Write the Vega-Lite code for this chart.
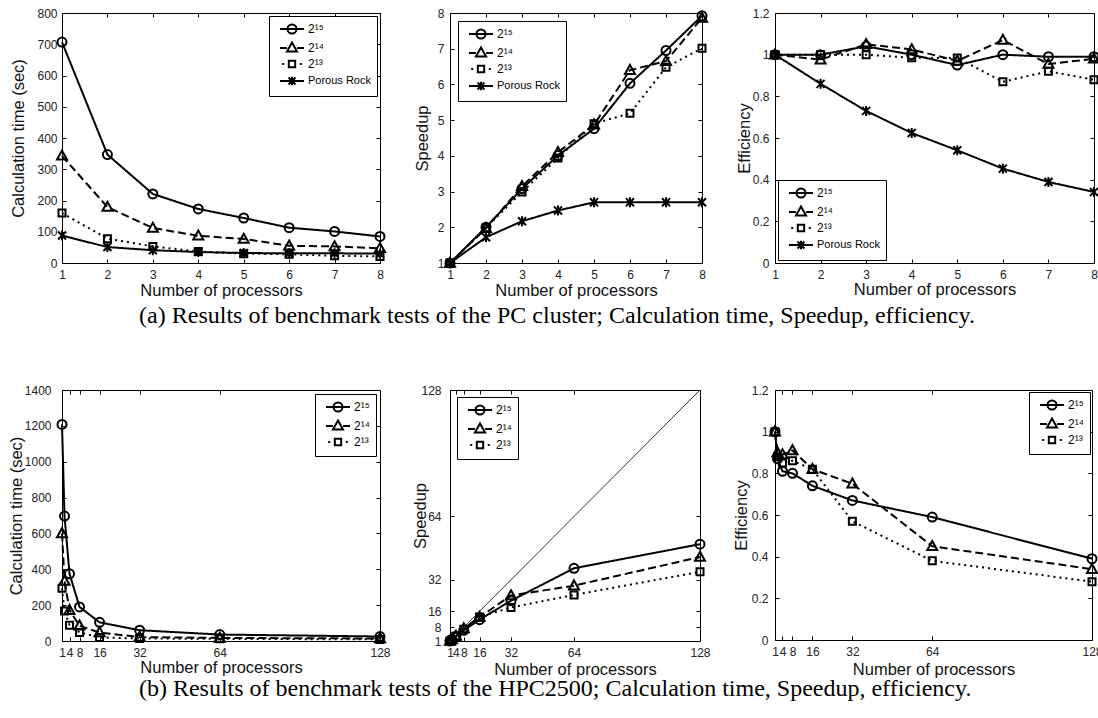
{
  "$schema": "https://vega.github.io/schema/vega-lite/v6.json",
  "background": "white",
  "padding": {"left": 7, "top": 6, "right": 0, "bottom": 0},
  "config": {
    "view": {"stroke": "black", "strokeWidth": 1},
    "axis": {
      "labelFont": "Liberation Sans", "labelFontSize": 12, "labelColor": "#222",
      "titleFont": "Liberation Sans", "titleFontSize": 16.5, "titleFontWeight": "normal", "titleColor": "#111",
      "tickColor": "black", "tickSize": -4, "domain": false, "grid": false, "minExtent": 0,
      "labelOverlap": false, "labelFlush": false, "labelBound": false
    },
    "legend": {
      "labelFont": "Liberation Sans", "labelFontSize": 12, "labelColor": "black",
      "fillColor": "white", "strokeColor": "black", "padding": 6, "symbolOffset": 10,
      "symbolSize": 144, "symbolStrokeWidth": 2, "symbolStrokeColor": "black", "symbolFillColor": "transparent", "symbolOpacity": 1,
      "labelOffset": 9, "rowPadding": 0
    }
  },
  "datasets": {
    "pcTime": [
      {"p": 1, "s": "2¹⁵", "v": 707}, {"p": 2, "s": "2¹⁵", "v": 347}, {"p": 3, "s": "2¹⁵", "v": 221}, {"p": 4, "s": "2¹⁵", "v": 173},
      {"p": 5, "s": "2¹⁵", "v": 144}, {"p": 6, "s": "2¹⁵", "v": 113}, {"p": 7, "s": "2¹⁵", "v": 101}, {"p": 8, "s": "2¹⁵", "v": 85},
      {"p": 1, "s": "2¹⁴", "v": 343}, {"p": 2, "s": "2¹⁴", "v": 179}, {"p": 3, "s": "2¹⁴", "v": 112}, {"p": 4, "s": "2¹⁴", "v": 87},
      {"p": 5, "s": "2¹⁴", "v": 77}, {"p": 6, "s": "2¹⁴", "v": 55}, {"p": 7, "s": "2¹⁴", "v": 53}, {"p": 8, "s": "2¹⁴", "v": 47},
      {"p": 1, "s": "2¹³", "v": 160}, {"p": 2, "s": "2¹³", "v": 78}, {"p": 3, "s": "2¹³", "v": 53}, {"p": 4, "s": "2¹³", "v": 37},
      {"p": 5, "s": "2¹³", "v": 30}, {"p": 6, "s": "2¹³", "v": 28}, {"p": 7, "s": "2¹³", "v": 23}, {"p": 8, "s": "2¹³", "v": 21},
      {"p": 1, "s": "Porous Rock", "v": 88}, {"p": 2, "s": "Porous Rock", "v": 51}, {"p": 3, "s": "Porous Rock", "v": 41}, {"p": 4, "s": "Porous Rock", "v": 35},
      {"p": 5, "s": "Porous Rock", "v": 32}, {"p": 6, "s": "Porous Rock", "v": 31}, {"p": 7, "s": "Porous Rock", "v": 31}, {"p": 8, "s": "Porous Rock", "v": 30}
    ],
    "pcSpeed": [
      {"p": 1, "s": "2¹⁵", "v": 1}, {"p": 2, "s": "2¹⁵", "v": 2.0}, {"p": 3, "s": "2¹⁵", "v": 3.08}, {"p": 4, "s": "2¹⁵", "v": 4.01},
      {"p": 5, "s": "2¹⁵", "v": 4.76}, {"p": 6, "s": "2¹⁵", "v": 6.03}, {"p": 7, "s": "2¹⁵", "v": 6.95}, {"p": 8, "s": "2¹⁵", "v": 7.92},
      {"p": 1, "s": "2¹⁴", "v": 1}, {"p": 2, "s": "2¹⁴", "v": 1.97}, {"p": 3, "s": "2¹⁴", "v": 3.15}, {"p": 4, "s": "2¹⁴", "v": 4.1},
      {"p": 5, "s": "2¹⁴", "v": 4.87}, {"p": 6, "s": "2¹⁴", "v": 6.4}, {"p": 7, "s": "2¹⁴", "v": 6.65}, {"p": 8, "s": "2¹⁴", "v": 7.86},
      {"p": 1, "s": "2¹³", "v": 1}, {"p": 2, "s": "2¹³", "v": 1.99}, {"p": 3, "s": "2¹³", "v": 2.99}, {"p": 4, "s": "2¹³", "v": 3.94},
      {"p": 5, "s": "2¹³", "v": 4.9}, {"p": 6, "s": "2¹³", "v": 5.19}, {"p": 7, "s": "2¹³", "v": 6.48}, {"p": 8, "s": "2¹³", "v": 7.01},
      {"p": 1, "s": "Porous Rock", "v": 1}, {"p": 2, "s": "Porous Rock", "v": 1.72}, {"p": 3, "s": "Porous Rock", "v": 2.17}, {"p": 4, "s": "Porous Rock", "v": 2.47},
      {"p": 5, "s": "Porous Rock", "v": 2.7}, {"p": 6, "s": "Porous Rock", "v": 2.7}, {"p": 7, "s": "Porous Rock", "v": 2.7}, {"p": 8, "s": "Porous Rock", "v": 2.7}
    ],
    "pcEff": [
      {"p": 1, "s": "2¹⁵", "v": 1}, {"p": 2, "s": "2¹⁵", "v": 1.0}, {"p": 3, "s": "2¹⁵", "v": 1.04}, {"p": 4, "s": "2¹⁵", "v": 1.0},
      {"p": 5, "s": "2¹⁵", "v": 0.95}, {"p": 6, "s": "2¹⁵", "v": 1.0}, {"p": 7, "s": "2¹⁵", "v": 0.99}, {"p": 8, "s": "2¹⁵", "v": 0.99},
      {"p": 1, "s": "2¹⁴", "v": 1}, {"p": 2, "s": "2¹⁴", "v": 0.976}, {"p": 3, "s": "2¹⁴", "v": 1.05}, {"p": 4, "s": "2¹⁴", "v": 1.025},
      {"p": 5, "s": "2¹⁴", "v": 0.97}, {"p": 6, "s": "2¹⁴", "v": 1.07}, {"p": 7, "s": "2¹⁴", "v": 0.955}, {"p": 8, "s": "2¹⁴", "v": 0.98},
      {"p": 1, "s": "2¹³", "v": 1}, {"p": 2, "s": "2¹³", "v": 1.0}, {"p": 3, "s": "2¹³", "v": 1.0}, {"p": 4, "s": "2¹³", "v": 0.985},
      {"p": 5, "s": "2¹³", "v": 0.984}, {"p": 6, "s": "2¹³", "v": 0.87}, {"p": 7, "s": "2¹³", "v": 0.92}, {"p": 8, "s": "2¹³", "v": 0.88},
      {"p": 1, "s": "Porous Rock", "v": 1}, {"p": 2, "s": "Porous Rock", "v": 0.86}, {"p": 3, "s": "Porous Rock", "v": 0.73}, {"p": 4, "s": "Porous Rock", "v": 0.624},
      {"p": 5, "s": "Porous Rock", "v": 0.541}, {"p": 6, "s": "Porous Rock", "v": 0.453}, {"p": 7, "s": "Porous Rock", "v": 0.389}, {"p": 8, "s": "Porous Rock", "v": 0.341}
    ],
    "hpcTime": [
      {"p": 1, "s": "2¹⁵", "v": 1208}, {"p": 2, "s": "2¹⁵", "v": 697}, {"p": 4, "s": "2¹⁵", "v": 375}, {"p": 8, "s": "2¹⁵", "v": 190},
      {"p": 16, "s": "2¹⁵", "v": 104}, {"p": 32, "s": "2¹⁵", "v": 60}, {"p": 64, "s": "2¹⁵", "v": 36}, {"p": 128, "s": "2¹⁵", "v": 25},
      {"p": 1, "s": "2¹⁴", "v": 600}, {"p": 2, "s": "2¹⁴", "v": 335}, {"p": 4, "s": "2¹⁴", "v": 172}, {"p": 8, "s": "2¹⁴", "v": 85},
      {"p": 16, "s": "2¹⁴", "v": 47}, {"p": 32, "s": "2¹⁴", "v": 22}, {"p": 64, "s": "2¹⁴", "v": 17}, {"p": 128, "s": "2¹⁴", "v": 14},
      {"p": 1, "s": "2¹³", "v": 294}, {"p": 2, "s": "2¹³", "v": 168}, {"p": 4, "s": "2¹³", "v": 88}, {"p": 8, "s": "2¹³", "v": 48},
      {"p": 16, "s": "2¹³", "v": 20}, {"p": 32, "s": "2¹³", "v": 14}, {"p": 64, "s": "2¹³", "v": 12}, {"p": 128, "s": "2¹³", "v": 9}
    ],
    "hpcSpeed": [
      {"p": 1, "s": "2¹⁵", "v": 1}, {"p": 2, "s": "2¹⁵", "v": 1.74}, {"p": 4, "s": "2¹⁵", "v": 3.24}, {"p": 8, "s": "2¹⁵", "v": 6.4},
      {"p": 16, "s": "2¹⁵", "v": 11.8}, {"p": 32, "s": "2¹⁵", "v": 21.4}, {"p": 64, "s": "2¹⁵", "v": 37.8}, {"p": 128, "s": "2¹⁵", "v": 50},
      {"p": 1, "s": "2¹⁴", "v": 1}, {"p": 2, "s": "2¹⁴", "v": 1.8}, {"p": 4, "s": "2¹⁴", "v": 3.56}, {"p": 8, "s": "2¹⁴", "v": 7.3},
      {"p": 16, "s": "2¹⁴", "v": 13.1}, {"p": 32, "s": "2¹⁴", "v": 24}, {"p": 64, "s": "2¹⁴", "v": 29}, {"p": 128, "s": "2¹⁴", "v": 43.5},
      {"p": 1, "s": "2¹³", "v": 1}, {"p": 2, "s": "2¹³", "v": 1.76}, {"p": 4, "s": "2¹³", "v": 3.4}, {"p": 8, "s": "2¹³", "v": 6.9},
      {"p": 16, "s": "2¹³", "v": 13.1}, {"p": 32, "s": "2¹³", "v": 18}, {"p": 64, "s": "2¹³", "v": 24.3}, {"p": 128, "s": "2¹³", "v": 36}
    ],
    "hpcEff": [
      {"p": 1, "s": "2¹⁵", "v": 1}, {"p": 2, "s": "2¹⁵", "v": 0.87}, {"p": 4, "s": "2¹⁵", "v": 0.81}, {"p": 8, "s": "2¹⁵", "v": 0.8},
      {"p": 16, "s": "2¹⁵", "v": 0.74}, {"p": 32, "s": "2¹⁵", "v": 0.67}, {"p": 64, "s": "2¹⁵", "v": 0.59}, {"p": 128, "s": "2¹⁵", "v": 0.39},
      {"p": 1, "s": "2¹⁴", "v": 1}, {"p": 2, "s": "2¹⁴", "v": 0.9}, {"p": 4, "s": "2¹⁴", "v": 0.89}, {"p": 8, "s": "2¹⁴", "v": 0.91},
      {"p": 16, "s": "2¹⁴", "v": 0.82}, {"p": 32, "s": "2¹⁴", "v": 0.75}, {"p": 64, "s": "2¹⁴", "v": 0.45}, {"p": 128, "s": "2¹⁴", "v": 0.34},
      {"p": 1, "s": "2¹³", "v": 1}, {"p": 2, "s": "2¹³", "v": 0.88}, {"p": 4, "s": "2¹³", "v": 0.85}, {"p": 8, "s": "2¹³", "v": 0.86},
      {"p": 16, "s": "2¹³", "v": 0.82}, {"p": 32, "s": "2¹³", "v": 0.57}, {"p": 64, "s": "2¹³", "v": 0.38}, {"p": 128, "s": "2¹³", "v": 0.28}
    ],
    "ideal": [{"p": 1, "v": 1}, {"p": 128, "v": 128}]
  },
  "spacing": 55,
  "resolve": {"scale": {"shape": "independent", "strokeDash": "independent"}, "legend": {"shape": "independent", "strokeDash": "independent"}},
  "vconcat": [
    {
      "spacing": 23,
      "resolve": {"scale": {"shape": "independent", "strokeDash": "independent"}, "legend": {"shape": "independent", "strokeDash": "independent"}},
      "title": {"text": "(a) Results of benchmark tests of the PC cluster; Calculation time, Speedup, efficiency.", "orient": "bottom", "anchor": "middle", "font": "Liberation Serif", "fontSize": 24, "fontWeight": "normal", "color": "black", "offset": 5},
      "hconcat": [
        {
          "width": 318, "height": 250,
          "data": {"name": "pcTime"},
          "resolve": {"axis": {"x": "independent", "y": "independent"}, "scale": {"shape": "independent"}},
          "layer": [
            {
              "mark": {"type": "line", "color": "black", "strokeWidth": 2},
              "encoding": {
                "x": {"field": "p", "type": "quantitative", "scale": {"domain": [1, 8], "nice": false, "zero": false}, "axis": {"title": "Number of processors", "values": [1, 2, 3, 4, 5, 6, 7, 8], "labelPadding": 10, "titlePadding": 2}},
                "y": {"field": "v", "type": "quantitative", "scale": {"domain": [0, 800], "nice": false}, "axis": {"title": "Calculation time (sec)", "values": [0, 100, 200, 300, 400, 500, 600, 700, 800], "labelPadding": 9, "titlePadding": 10}},
                "strokeDash": {"field": "s", "type": "nominal", "scale": {"domain": ["Porous Rock", "2¹³", "2¹⁴", "2¹⁵"], "range": [[1, 0], [2, 4], [8, 4], [1, 0]]}, "legend": null}
              }
            },
            {
              "mark": {"type": "point", "filled": false, "color": "black", "strokeWidth": 2, "size": 100, "opacity": 1},
              "encoding": {
                "x": {"field": "p", "type": "quantitative", "axis": {"orient": "top", "labels": false, "title": null, "values": [1, 2, 3, 4, 5, 6, 7, 8]}},
                "y": {"field": "v", "type": "quantitative", "axis": {"orient": "right", "labels": false, "title": null, "values": [0, 100, 200, 300, 400, 500, 600, 700, 800]}},
                "shape": {"field": "s", "type": "nominal", "legend": null,
                  "scale": {"domain": ["2¹⁵", "2¹⁴", "2¹³", "Porous Rock"], "range": ["M-0.9,0A0.9,0.9,0,1,0,0.9,0A0.9,0.9,0,1,0,-0.9,0Z", "M0,-1.05L1,0.75L-1,0.75Z", "M-0.7,-0.7H0.7V0.7H-0.7Z", "M-0.8,-0.8L0.8,0.8M-0.8,0.8L0.8,-0.8M0,-1V1"]}}
              }
            },
            {
              "transform": [{"filter": "false"}],
              "mark": {"type": "point", "filled": false, "color": "black", "strokeWidth": 2},
              "encoding": {
                "x": {"field": "p", "type": "quantitative", "axis": null},
                "y": {"field": "v", "type": "quantitative", "axis": null},
                "shape": {"field": "s", "type": "nominal",
                  "scale": {"domain": ["2¹⁵", "2¹⁴", "2¹³", "Porous Rock"], "range": ["M-2,0H2M-0.75,0A0.75,0.75,0,1,0,0.75,0A0.75,0.75,0,1,0,-0.75,0Z", "M-2,0H-0.85M0.85,0H2M0,-0.9L0.84,0.58L-0.84,0.58Z", "M-1.63,0H-1.3M1.3,0H1.63M-0.53,-0.53H0.53V0.53H-0.53Z", "M-2,0H2M-0.58,-0.58L0.58,0.58M-0.58,0.58L0.58,-0.58M0,-0.7V0.7"]},
                  "legend": {"title": null, "orient": "top-right", "offset": 3,
                    "encoding": {"labels": {"fontSize": {"value": {"expr": "datum.value === 'Porous Rock' ? 11 : 12"}}}}}}
              }
            }
          ]
        },
        {
          "width": 252, "height": 250,
          "data": {"name": "pcSpeed"},
          "resolve": {"axis": {"x": "independent", "y": "independent"}, "scale": {"shape": "independent"}},
          "layer": [
            {
              "mark": {"type": "line", "color": "black", "strokeWidth": 2},
              "encoding": {
                "x": {"field": "p", "type": "quantitative", "scale": {"domain": [1, 8], "nice": false, "zero": false}, "axis": {"title": "Number of processors", "values": [1, 2, 3, 4, 5, 6, 7, 8], "labelPadding": 10, "titlePadding": 2}},
                "y": {"field": "v", "type": "quantitative", "scale": {"domain": [1, 8], "nice": false, "zero": false}, "axis": {"title": "Speedup", "values": [1, 2, 3, 4, 5, 6, 7, 8], "labelPadding": 10, "titlePadding": 7}},
                "strokeDash": {"field": "s", "type": "nominal", "scale": {"domain": ["Porous Rock", "2¹³", "2¹⁴", "2¹⁵"], "range": [[1, 0], [2, 4], [8, 4], [1, 0]]}, "legend": null}
              }
            },
            {
              "mark": {"type": "point", "filled": false, "color": "black", "strokeWidth": 2, "size": 100, "opacity": 1},
              "encoding": {
                "x": {"field": "p", "type": "quantitative", "axis": {"orient": "top", "labels": false, "title": null, "values": [1, 2, 3, 4, 5, 6, 7, 8]}},
                "y": {"field": "v", "type": "quantitative", "axis": {"orient": "right", "labels": false, "title": null, "values": [1, 2, 3, 4, 5, 6, 7, 8]}},
                "shape": {"field": "s", "type": "nominal", "legend": null,
                  "scale": {"domain": ["2¹⁵", "2¹⁴", "2¹³", "Porous Rock"], "range": ["M-0.9,0A0.9,0.9,0,1,0,0.9,0A0.9,0.9,0,1,0,-0.9,0Z", "M0,-1.05L1,0.75L-1,0.75Z", "M-0.7,-0.7H0.7V0.7H-0.7Z", "M-0.8,-0.8L0.8,0.8M-0.8,0.8L0.8,-0.8M0,-1V1"]}}
              }
            },
            {
              "transform": [{"filter": "false"}],
              "mark": {"type": "point", "filled": false, "color": "black", "strokeWidth": 2},
              "encoding": {
                "x": {"field": "p", "type": "quantitative", "axis": null},
                "y": {"field": "v", "type": "quantitative", "axis": null},
                "shape": {"field": "s", "type": "nominal",
                  "scale": {"domain": ["2¹⁵", "2¹⁴", "2¹³", "Porous Rock"], "range": ["M-2,0H2M-0.75,0A0.75,0.75,0,1,0,0.75,0A0.75,0.75,0,1,0,-0.75,0Z", "M-2,0H-0.85M0.85,0H2M0,-0.9L0.84,0.58L-0.84,0.58Z", "M-1.63,0H-1.3M1.3,0H1.63M-0.53,-0.53H0.53V0.53H-0.53Z", "M-2,0H2M-0.58,-0.58L0.58,0.58M-0.58,0.58L0.58,-0.58M0,-0.7V0.7"]},
                  "legend": {"title": null, "orient": "top-left", "offset": 8,
                    "encoding": {"labels": {"fontSize": {"value": {"expr": "datum.value === 'Porous Rock' ? 11 : 12"}}}}}}
              }
            }
          ]
        },
        {
          "width": 319, "height": 250,
          "data": {"name": "pcEff"},
          "resolve": {"axis": {"x": "independent", "y": "independent"}, "scale": {"shape": "independent"}},
          "layer": [
            {
              "mark": {"type": "line", "color": "black", "strokeWidth": 2},
              "encoding": {
                "x": {"field": "p", "type": "quantitative", "scale": {"domain": [1, 8], "nice": false, "zero": false}, "axis": {"title": "Number of processors", "values": [1, 2, 3, 4, 5, 6, 7, 8], "labelPadding": 10, "titlePadding": 1}},
                "y": {"field": "v", "type": "quantitative", "scale": {"domain": [0, 1.2], "nice": false}, "axis": {"title": "Efficiency", "values": [0, 0.2, 0.4, 0.6, 0.8, 1, 1.2], "format": "~g", "labelPadding": 10, "titlePadding": 0}},
                "strokeDash": {"field": "s", "type": "nominal", "scale": {"domain": ["Porous Rock", "2¹³", "2¹⁴", "2¹⁵"], "range": [[1, 0], [2, 4], [8, 4], [1, 0]]}, "legend": null}
              }
            },
            {
              "mark": {"type": "point", "filled": false, "color": "black", "strokeWidth": 2, "size": 100, "opacity": 1},
              "encoding": {
                "x": {"field": "p", "type": "quantitative", "axis": {"orient": "top", "labels": false, "title": null, "values": [1, 2, 3, 4, 5, 6, 7, 8]}},
                "y": {"field": "v", "type": "quantitative", "axis": {"orient": "right", "labels": false, "title": null, "values": [0, 0.2, 0.4, 0.6, 0.8, 1, 1.2]}},
                "shape": {"field": "s", "type": "nominal", "legend": null,
                  "scale": {"domain": ["2¹⁵", "2¹⁴", "2¹³", "Porous Rock"], "range": ["M-0.9,0A0.9,0.9,0,1,0,0.9,0A0.9,0.9,0,1,0,-0.9,0Z", "M0,-1.05L1,0.75L-1,0.75Z", "M-0.7,-0.7H0.7V0.7H-0.7Z", "M-0.8,-0.8L0.8,0.8M-0.8,0.8L0.8,-0.8M0,-1V1"]}}
              }
            },
            {
              "transform": [{"filter": "false"}],
              "mark": {"type": "point", "filled": false, "color": "black", "strokeWidth": 2},
              "encoding": {
                "x": {"field": "p", "type": "quantitative", "axis": null},
                "y": {"field": "v", "type": "quantitative", "axis": null},
                "shape": {"field": "s", "type": "nominal",
                  "scale": {"domain": ["2¹⁵", "2¹⁴", "2¹³", "Porous Rock"], "range": ["M-2,0H2M-0.75,0A0.75,0.75,0,1,0,0.75,0A0.75,0.75,0,1,0,-0.75,0Z", "M-2,0H-0.85M0.85,0H2M0,-0.9L0.84,0.58L-0.84,0.58Z", "M-1.63,0H-1.3M1.3,0H1.63M-0.53,-0.53H0.53V0.53H-0.53Z", "M-2,0H2M-0.58,-0.58L0.58,0.58M-0.58,0.58L0.58,-0.58M0,-0.7V0.7"]},
                  "legend": {"title": null, "orient": "bottom-left", "offset": 3,
                    "encoding": {"labels": {"fontSize": {"value": {"expr": "datum.value === 'Porous Rock' ? 11 : 12"}}}}}}
              }
            }
          ]
        }
      ]
    },
    {
      "spacing": 21,
      "resolve": {"scale": {"shape": "independent", "strokeDash": "independent"}, "legend": {"shape": "independent", "strokeDash": "independent"}},
      "title": {"text": "(b) Results of benchmark tests of the HPC2500; Calculation time, Speedup, efficiency.", "orient": "bottom", "anchor": "middle", "font": "Liberation Serif", "fontSize": 24, "fontWeight": "normal", "color": "black", "offset": -1},
      "hconcat": [
        {
          "width": 318, "height": 251,
          "data": {"name": "hpcTime"},
          "resolve": {"axis": {"x": "independent", "y": "independent"}, "scale": {"shape": "independent"}},
          "layer": [
            {
              "mark": {"type": "line", "color": "black", "strokeWidth": 2},
              "encoding": {
                "x": {"field": "p", "type": "quantitative", "scale": {"domain": [1, 128], "nice": false, "zero": false}, "axis": {"title": "Number of processors", "values": [1, 4, 8, 16, 32, 64, 128], "labelPadding": 10, "titlePadding": 1}},
                "y": {"field": "v", "type": "quantitative", "scale": {"domain": [0, 1400], "nice": false}, "axis": {"title": "Calculation time (sec)", "values": [0, 200, 400, 600, 800, 1000, 1200, 1400], "format": "d", "labelPadding": 15, "titlePadding": 0}},
                "strokeDash": {"field": "s", "type": "nominal", "scale": {"domain": ["2¹³", "2¹⁴", "2¹⁵"], "range": [[2, 4], [8, 4], [1, 0]]}, "legend": null}
              }
            },
            {
              "mark": {"type": "point", "filled": false, "color": "black", "strokeWidth": 2, "size": 100, "opacity": 1},
              "encoding": {
                "x": {"field": "p", "type": "quantitative", "axis": {"orient": "top", "labels": false, "title": null, "values": [1, 4, 8, 16, 32, 64, 128]}},
                "y": {"field": "v", "type": "quantitative", "axis": {"orient": "right", "labels": false, "title": null, "values": [0, 200, 400, 600, 800, 1000, 1200, 1400]}},
                "shape": {"field": "s", "type": "nominal", "legend": null,
                  "scale": {"domain": ["2¹⁵", "2¹⁴", "2¹³"], "range": ["M-0.9,0A0.9,0.9,0,1,0,0.9,0A0.9,0.9,0,1,0,-0.9,0Z", "M0,-1.05L1,0.75L-1,0.75Z", "M-0.7,-0.7H0.7V0.7H-0.7Z"]}}
              }
            },
            {
              "transform": [{"filter": "false"}],
              "mark": {"type": "point", "filled": false, "color": "black", "strokeWidth": 2},
              "encoding": {
                "x": {"field": "p", "type": "quantitative", "axis": null},
                "y": {"field": "v", "type": "quantitative", "axis": null},
                "shape": {"field": "s", "type": "nominal",
                  "scale": {"domain": ["2¹⁵", "2¹⁴", "2¹³"], "range": ["M-2,0H2M-0.75,0A0.75,0.75,0,1,0,0.75,0A0.75,0.75,0,1,0,-0.75,0Z", "M-2,0H-0.85M0.85,0H2M0,-0.9L0.84,0.58L-0.84,0.58Z", "M-1.63,0H-1.3M1.3,0H1.63M-0.53,-0.53H0.53V0.53H-0.53Z"]},
                  "legend": {"title": null, "orient": "top-right", "offset": 4}}
              }
            }
          ]
        },
        {
          "width": 250, "height": 251,
          "resolve": {"axis": {"x": "independent", "y": "independent"}, "scale": {"shape": "independent"}},
          "layer": [
            {
              "data": {"name": "ideal"},
              "mark": {"type": "line", "color": "black", "strokeWidth": 0.8},
              "encoding": {
                "x": {"field": "p", "type": "quantitative", "axis": null},
                "y": {"field": "v", "type": "quantitative", "axis": null}
              }
            },
            {
              "data": {"name": "hpcSpeed"},
              "mark": {"type": "line", "color": "black", "strokeWidth": 2},
              "encoding": {
                "x": {"field": "p", "type": "quantitative", "scale": {"domain": [1, 128], "nice": false, "zero": false}, "axis": {"title": "Number of processors", "values": [1, 4, 8, 16, 32, 64, 128], "labelPadding": 10, "titlePadding": 3}},
                "y": {"field": "v", "type": "quantitative", "scale": {"domain": [1, 128], "nice": false, "zero": false}, "axis": {"title": "Speedup", "values": [1, 8, 16, 32, 64, 128], "labelPadding": 13, "titlePadding": -8}},
                "strokeDash": {"field": "s", "type": "nominal", "scale": {"domain": ["2¹³", "2¹⁴", "2¹⁵"], "range": [[2, 4], [8, 4], [1, 0]]}, "legend": null}
              }
            },
            {
              "data": {"name": "hpcSpeed"},
              "mark": {"type": "point", "filled": false, "color": "black", "strokeWidth": 2, "size": 100, "opacity": 1},
              "encoding": {
                "x": {"field": "p", "type": "quantitative", "axis": {"orient": "top", "labels": false, "title": null, "values": [1, 4, 8, 16, 32, 64, 128]}},
                "y": {"field": "v", "type": "quantitative", "axis": {"orient": "right", "labels": false, "title": null, "values": [1, 8, 16, 32, 64, 128]}},
                "shape": {"field": "s", "type": "nominal", "legend": null,
                  "scale": {"domain": ["2¹⁵", "2¹⁴", "2¹³"], "range": ["M-0.9,0A0.9,0.9,0,1,0,0.9,0A0.9,0.9,0,1,0,-0.9,0Z", "M0,-1.05L1,0.75L-1,0.75Z", "M-0.7,-0.7H0.7V0.7H-0.7Z"]}}
              }
            },
            {
              "data": {"name": "hpcSpeed"},
              "transform": [{"filter": "false"}],
              "mark": {"type": "point", "filled": false, "color": "black", "strokeWidth": 2},
              "encoding": {
                "x": {"field": "p", "type": "quantitative", "axis": null},
                "y": {"field": "v", "type": "quantitative", "axis": null},
                "shape": {"field": "s", "type": "nominal",
                  "scale": {"domain": ["2¹⁵", "2¹⁴", "2¹³"], "range": ["M-2,0H2M-0.75,0A0.75,0.75,0,1,0,0.75,0A0.75,0.75,0,1,0,-0.75,0Z", "M-2,0H-0.85M0.85,0H2M0,-0.9L0.84,0.58L-0.84,0.58Z", "M-1.63,0H-1.3M1.3,0H1.63M-0.53,-0.53H0.53V0.53H-0.53Z"]},
                  "legend": {"title": null, "orient": "top-left", "offset": 7}}
              }
            }
          ]
        },
        {
          "width": 317, "height": 250,
          "data": {"name": "hpcEff"},
          "resolve": {"axis": {"x": "independent", "y": "independent"}, "scale": {"shape": "independent"}},
          "layer": [
            {
              "mark": {"type": "line", "color": "black", "strokeWidth": 2},
              "encoding": {
                "x": {"field": "p", "type": "quantitative", "scale": {"domain": [1, 128], "nice": false, "zero": false}, "axis": {"title": "Number of processors", "values": [1, 4, 8, 16, 32, 64, 128], "labelPadding": 10, "titlePadding": 4}},
                "y": {"field": "v", "type": "quantitative", "scale": {"domain": [0, 1.2], "nice": false}, "axis": {"title": "Efficiency", "values": [0, 0.2, 0.4, 0.6, 0.8, 1, 1.2], "format": "~g", "labelPadding": 11, "titlePadding": 2}},
                "strokeDash": {"field": "s", "type": "nominal", "scale": {"domain": ["2¹³", "2¹⁴", "2¹⁵"], "range": [[2, 4], [8, 4], [1, 0]]}, "legend": null}
              }
            },
            {
              "mark": {"type": "point", "filled": false, "color": "black", "strokeWidth": 2, "size": 100, "opacity": 1},
              "encoding": {
                "x": {"field": "p", "type": "quantitative", "axis": {"orient": "top", "labels": false, "title": null, "values": [1, 4, 8, 16, 32, 64, 128]}},
                "y": {"field": "v", "type": "quantitative", "axis": {"orient": "right", "labels": false, "title": null, "values": [0, 0.2, 0.4, 0.6, 0.8, 1, 1.2]}},
                "shape": {"field": "s", "type": "nominal", "legend": null,
                  "scale": {"domain": ["2¹⁵", "2¹⁴", "2¹³"], "range": ["M-0.9,0A0.9,0.9,0,1,0,0.9,0A0.9,0.9,0,1,0,-0.9,0Z", "M0,-1.05L1,0.75L-1,0.75Z", "M-0.7,-0.7H0.7V0.7H-0.7Z"]}}
              }
            },
            {
              "transform": [{"filter": "false"}],
              "mark": {"type": "point", "filled": false, "color": "black", "strokeWidth": 2},
              "encoding": {
                "x": {"field": "p", "type": "quantitative", "axis": null},
                "y": {"field": "v", "type": "quantitative", "axis": null},
                "shape": {"field": "s", "type": "nominal",
                  "scale": {"domain": ["2¹⁵", "2¹⁴", "2¹³"], "range": ["M-2,0H2M-0.75,0A0.75,0.75,0,1,0,0.75,0A0.75,0.75,0,1,0,-0.75,0Z", "M-2,0H-0.85M0.85,0H2M0,-0.9L0.84,0.58L-0.84,0.58Z", "M-1.63,0H-1.3M1.3,0H1.63M-0.53,-0.53H0.53V0.53H-0.53Z"]},
                  "legend": {"title": null, "orient": "top-right", "offset": 2}}
              }
            }
          ]
        }
      ]
    }
  ]
}
